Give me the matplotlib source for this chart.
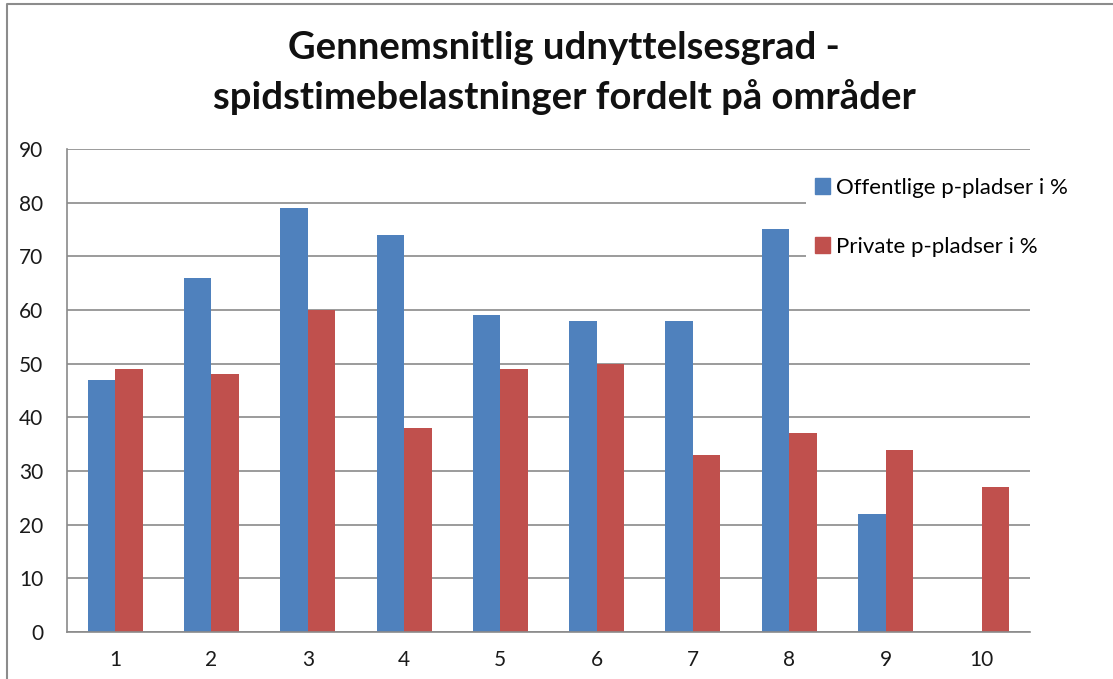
import numpy as np
import matplotlib
matplotlib.use("Agg")
import matplotlib.pyplot as plt
from matplotlib.lines import Line2D
from matplotlib.patches import Patch

# Chart data
areas = ["1", "2", "3", "4", "5", "6", "7", "8", "9", "10"]
public_pct = [47, 66, 79, 74, 59, 58, 58, 75, 22, 0]
private_pct = [49, 48, 60, 38, 49, 50, 33, 37, 34, 27]
series_names = ["Offentlige p-pladser i %", "Private p-pladser i %"]

title = "Gennemsnitlig udnyttelsesgrad -\nspidstimebelastninger fordelt på områder"

BLUE = "#4F81BD"
RED = "#C0504D"
GRID = "#8a8a8a"

plt.rcParams["font.family"] = ["Lato", "DejaVu Sans"]

fig = plt.figure(figsize=(11.13, 6.79), dpi=100)
ax = fig.add_axes([0.0602, 0.0692, 0.8652, 0.7114])

x = np.arange(len(areas))
w = 1 / 3.5
ax.bar(x - w / 2, public_pct, width=w, color=BLUE, zorder=2)
ax.bar(x + w / 2, private_pct, width=w, color=RED, zorder=2)

ax.set_xlim(-0.5, len(areas) - 0.5)
ax.set_ylim(0, 90)
ax.set_yticks(np.arange(0, 91, 10))
ax.set_xticks(x)
ax.set_xticklabels(areas)
ax.tick_params(length=0, labelsize=15, colors="#1a1a1a")
ax.tick_params(axis="y", pad=17)
ax.tick_params(axis="x", pad=13)
ax.yaxis.grid(True, color=GRID, linewidth=1.2, zorder=0)
ax.set_axisbelow(True)
for side in ["top", "right"]:
    ax.spines[side].set_visible(False)
for side in ["left", "bottom"]:
    ax.spines[side].set_color(GRID)
    ax.spines[side].set_linewidth(1.2)

handles = [Patch(color=BLUE), Patch(color=RED)]
leg = ax.legend(handles, series_names, loc="upper left",
                bbox_to_anchor=(806 / 1113, 1 - 169 / 679), bbox_transform=fig.transFigure,
                fontsize=16, frameon=True, fancybox=False, framealpha=1,
                facecolor="white", edgecolor="none", labelspacing=1.75,
                handlelength=0.7, handleheight=0.7, handletextpad=0.25,
                borderpad=0.4, borderaxespad=0)
leg.set_zorder(5)

fig.text(0.507, 1 - 73 / 679, title, ha="center", va="center", fontsize=27.5,
         fontweight="bold", linespacing=1.47, color="#111111")

# chart area border (cropped on right and bottom)
fig.add_artist(Line2D([7 / 1113, 7 / 1113, 1.0], [0.0, 1 - 4 / 679, 1 - 4 / 679],
                      transform=fig.transFigure, color="#8c8c8c", linewidth=1.5))

fig.savefig("out.png", dpi=100)
